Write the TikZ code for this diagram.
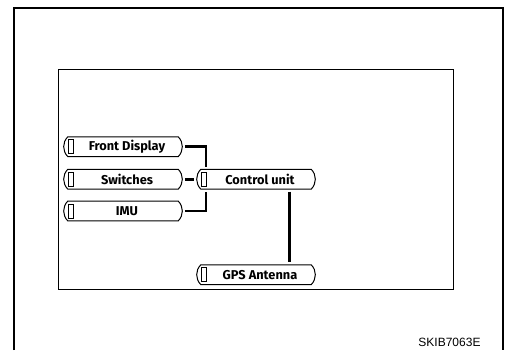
\documentclass[tikz,border=0pt]{standalone}
\usepackage{fontspec}
\setmainfont{Liberation Sans}
\newfontfamily\partfont{Fira Sans}
\usetikzlibrary{positioning,shapes.misc}

\tikzset{every picture/.style={line width=0.75pt}}

\begin{document}
\begin{tikzpicture}[
            x=0.75pt,
            y=0.75pt,
            yscale=-1,
            xscale=1,
            every node/.style={text=black},
            part/.style={draw, rounded rectangle, rounded rectangle arc length=90,
                minimum width=89pt, minimum height=14.8pt, inner sep=0pt,
                font=\partfont\bfseries\fontsize{9.6}{11}\selectfont},
            tofu/.style={draw, line width=0.7pt, minimum width=4.2pt, minimum height=10.5pt, inner sep=0pt},
            link/.style={line width=2pt, shorten >=1.5pt, shorten <=1.5pt},
            line width=0.75pt
        ]
            \useasboundingbox (0,0) rectangle (509,350);
            % frames
            \draw [line width=1.5pt] (13.5,350) -- (13.5,8.3) -- (503,8.3) -- (503,350) ;
            \draw   (58.3,69) -- (453.3,69) -- (453.3,289.3) -- (58.3,289.3) -- cycle ;

            % parts
            \node [part] (fd) at (123,146.7) {\hspace{6pt}Front Display};
            \node [part] (sw) at (123,179.2) {\hspace{6pt}Switches};
            \node [part] (imu) at (123,211) {\hspace{6pt}IMU};
            \node [part] (cu) at (256,179.2) {\hspace{6pt}Control unit};
            \node [part] (gps) at (256,274.7) {\hspace{6pt}GPS Antenna};

            \node [tofu, right=3.5pt of fd.west] (fdmark) {};
            \node [tofu, right=3.5pt of sw.west] (swmark) {};
            \node [tofu, right=3.5pt of imu.west] (imumark) {};
            \node [tofu, right=3.5pt of cu.west] (cumark) {};
            \node [tofu, right=3.5pt of gps.west] (gpsmark) {};

            % wiring
            \coordinate (bus) at (206,179.2);
            \coordinate (gpsbus) at (289.3,179.2);
            \draw [link] (fd.east) -| (bus |- cu.north) ;
            \draw [link] (imu.east) -| (bus |- cu.south) ;
            \draw [link] (sw.east) -- (cu.west) ;
            \draw [link] (gpsbus |- cu.south) -- (gpsbus |- gps.north) ;

            \node [anchor=south east, inner sep=0pt, font=\fontsize{9}{10}\selectfont] (code) at (481,347) {SKIB7063E};
        \end{tikzpicture}
\end{document}
